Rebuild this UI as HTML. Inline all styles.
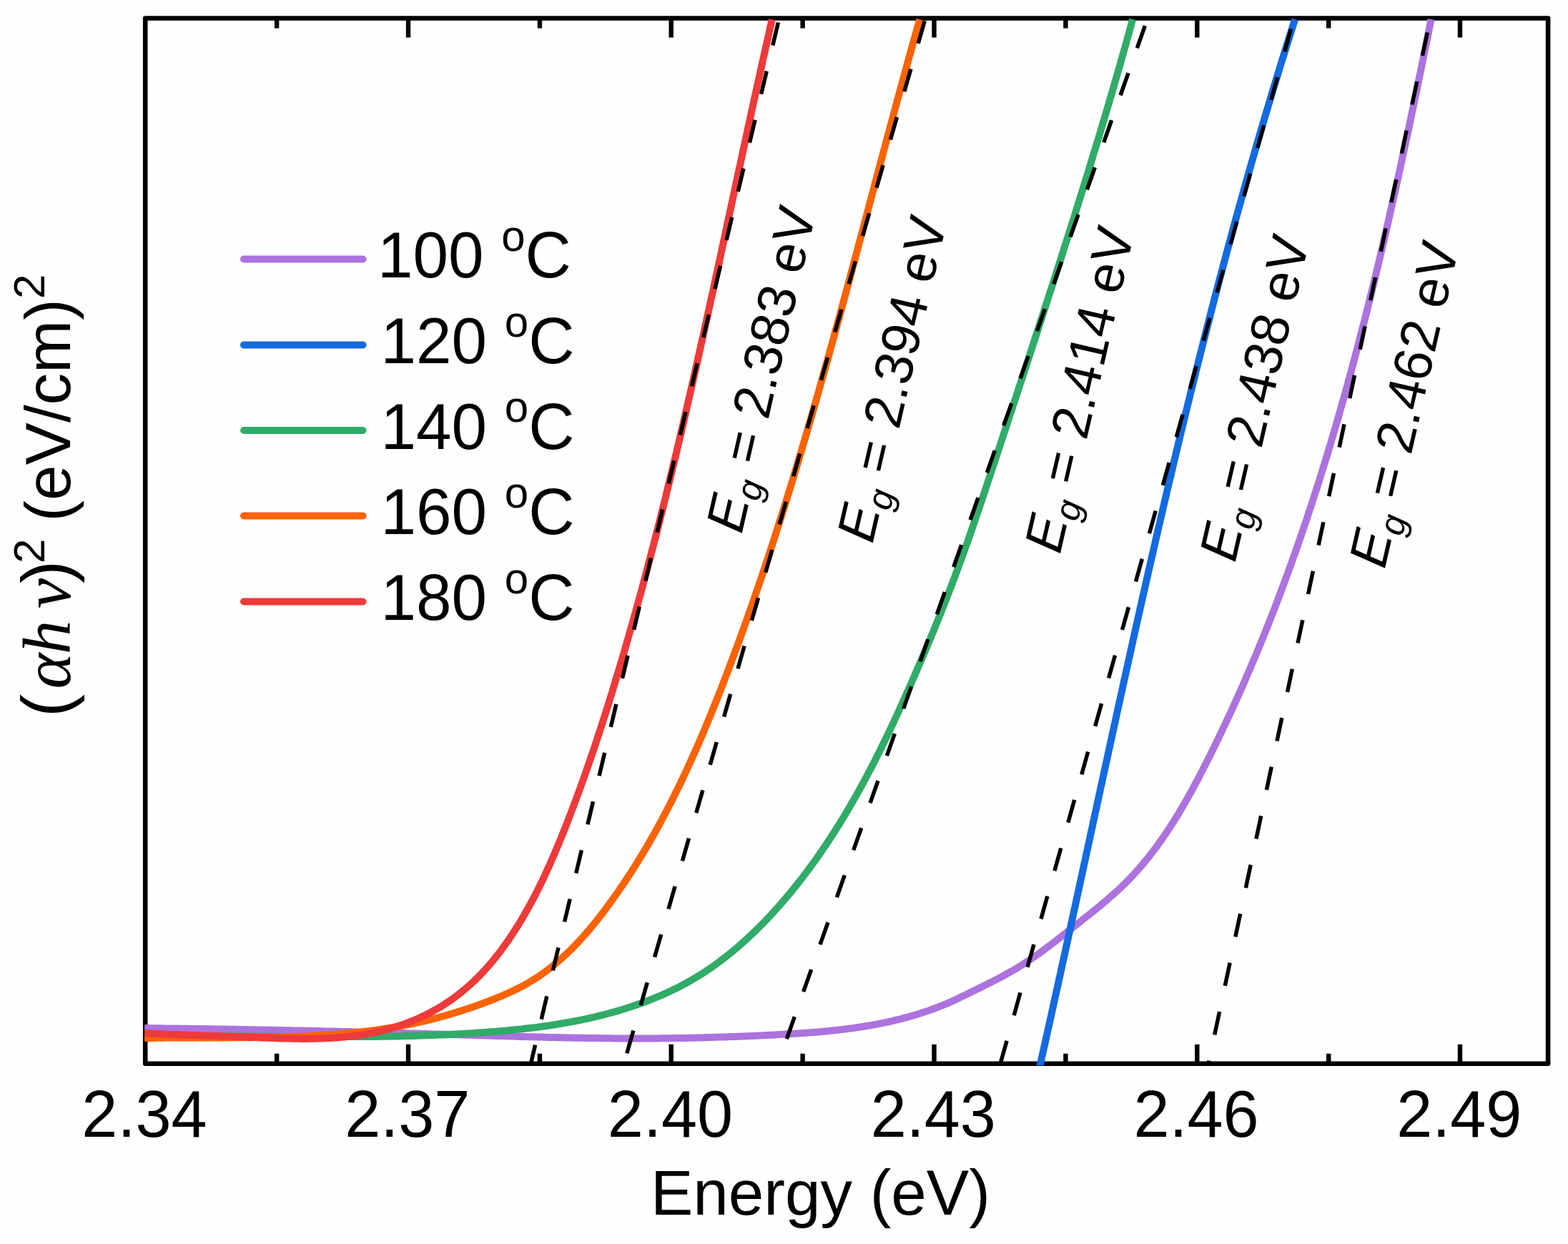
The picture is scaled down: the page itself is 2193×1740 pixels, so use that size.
<!DOCTYPE html>
<html><head><meta charset="utf-8"><title>Tauc plot</title>
<style>html,body{margin:0;padding:0;background:#fefefe;}svg{display:block;}</style>
</head><body>
<svg xmlns="http://www.w3.org/2000/svg" width="2193" height="1740" viewBox="0 0 2193 1740">
<rect x="0" y="0" width="2193" height="1740" fill="#fefefe"/>
<defs><clipPath id="pa"><rect x="203.2" y="25.5" width="1961.8999999999999" height="1462.3"/></clipPath><clipPath id="pc"><rect x="202.2" y="23.5" width="1963.8999999999999" height="1466.8"/></clipPath></defs>
<rect x="203.2" y="25.5" width="1961.8999999999999" height="1462.3" fill="none" stroke="#000" stroke-width="6.6" stroke-linejoin="round"/>
<path d="M387.1,1487.8V1473.8M387.1,25.5V39.5M571.0,1487.8V1460.8M571.0,25.5V52.5M754.9,1487.8V1473.8M754.9,25.5V39.5M938.7,1487.8V1460.8M938.7,25.5V52.5M1122.6,1487.8V1473.8M1122.6,25.5V39.5M1306.5,1487.8V1460.8M1306.5,25.5V52.5M1490.4,1487.8V1473.8M1490.4,25.5V39.5M1674.3,1487.8V1460.8M1674.3,25.5V52.5M1858.2,1487.8V1473.8M1858.2,25.5V39.5M2042.0,1487.8V1460.8M2042.0,25.5V52.5" stroke="#000" stroke-width="6.4" fill="none"/>
<g clip-path="url(#pc)" fill="none" stroke-linejoin="round" stroke-linecap="butt">
<path d="M2001.6,26.9 L2000.5,32.3 L1999.4,37.7 L1998.4,43.0 L1997.3,48.4 L1996.2,53.7 L1995.1,59.1 L1994.0,64.4 L1992.9,69.8 L1991.8,75.1 L1990.8,80.5 L1989.7,85.8 L1988.6,91.2 L1987.5,96.6 L1986.4,101.9 L1985.3,107.3 L1984.2,112.6 L1983.1,118.0 L1982.0,123.3 L1980.9,128.7 L1979.7,134.0 L1978.6,139.4 L1977.5,144.7 L1976.4,150.1 L1975.3,155.4 L1974.2,160.8 L1973.0,166.1 L1971.9,171.5 L1970.8,176.8 L1969.7,182.2 L1968.5,187.6 L1967.4,192.9 L1966.2,198.2 L1965.1,203.6 L1963.9,208.9 L1962.8,214.3 L1961.6,219.6 L1960.5,225.0 L1959.3,230.3 L1958.2,235.7 L1957.0,241.0 L1955.8,246.4 L1954.7,251.7 L1953.5,257.0 L1952.3,262.4 L1951.1,267.7 L1949.9,273.1 L1948.7,278.4 L1947.5,283.7 L1946.3,289.1 L1945.1,294.4 L1943.9,299.8 L1942.7,305.1 L1941.5,310.4 L1940.3,315.8 L1939.1,321.1 L1937.8,326.4 L1936.6,331.7 L1935.4,337.1 L1934.1,342.4 L1932.9,347.7 L1931.6,353.0 L1930.4,358.4 L1929.1,363.7 L1927.9,369.0 L1926.6,374.3 L1925.3,379.7 L1924.0,385.0 L1922.7,390.3 L1921.5,395.6 L1920.2,400.9 L1918.9,406.2 L1917.6,411.5 L1916.2,416.8 L1914.9,422.2 L1913.6,427.5 L1912.3,432.8 L1910.9,438.1 L1909.6,443.4 L1908.3,448.7 L1906.9,454.0 L1905.6,459.3 L1904.2,464.6 L1902.8,469.9 L1901.5,475.1 L1900.1,480.4 L1898.7,485.7 L1897.3,491.0 L1895.9,496.3 L1894.5,501.6 L1893.1,506.9 L1891.7,512.1 L1890.2,517.4 L1888.8,522.7 L1887.4,528.0 L1885.9,533.2 L1884.5,538.5 L1883.0,543.8 L1881.6,549.0 L1880.1,554.3 L1878.6,559.6 L1877.1,564.8 L1875.6,570.1 L1874.1,575.3 L1872.6,580.6 L1871.1,585.9 L1869.6,591.1 L1868.1,596.3 L1866.5,601.6 L1865.0,606.8 L1863.4,612.1 L1861.9,617.3 L1860.3,622.6 L1858.7,627.8 L1857.2,633.0 L1855.6,638.2 L1854.0,643.5 L1852.4,648.7 L1850.7,653.9 L1849.1,659.1 L1847.5,664.4 L1845.9,669.6 L1844.2,674.8 L1842.6,680.0 L1840.9,685.2 L1839.2,690.4 L1837.5,695.6 L1835.8,700.8 L1834.2,706.0 L1832.4,711.2 L1830.7,716.4 L1829.0,721.6 L1827.3,726.8 L1825.5,731.9 L1823.8,737.1 L1822.0,742.3 L1820.3,747.5 L1818.5,752.6 L1816.7,757.8 L1814.9,763.0 L1813.1,768.1 L1811.3,773.3 L1809.4,778.4 L1807.6,783.6 L1805.8,788.7 L1803.9,793.9 L1802.0,799.0 L1800.2,804.1 L1798.3,809.3 L1796.4,814.4 L1794.5,819.5 L1792.6,824.6 L1790.7,829.7 L1788.7,834.9 L1786.8,840.0 L1784.8,845.1 L1782.9,850.2 L1780.9,855.3 L1778.9,860.4 L1776.9,865.5 L1774.9,870.5 L1772.9,875.6 L1770.9,880.7 L1768.8,885.8 L1766.8,890.8 L1764.7,895.9 L1762.7,901.0 L1760.6,906.0 L1758.5,911.1 L1756.4,916.1 L1754.3,921.2 L1752.1,926.2 L1750.0,931.3 L1747.9,936.3 L1745.7,941.3 L1743.5,946.3 L1741.4,951.3 L1739.2,956.4 L1737.0,961.4 L1734.7,966.4 L1732.5,971.4 L1730.3,976.4 L1728.0,981.3 L1725.8,986.3 L1723.5,991.3 L1721.2,996.3 L1718.9,1001.3 L1716.6,1006.2 L1714.3,1011.2 L1711.9,1016.1 L1709.6,1021.1 L1707.2,1026.0 L1704.9,1031.0 L1702.5,1035.9 L1700.1,1040.8 L1697.7,1045.7 L1695.2,1050.7 L1692.8,1055.6 L1690.4,1060.5 L1687.9,1065.4 L1685.4,1070.3 L1682.9,1075.2 L1680.4,1080.0 L1677.9,1084.9 L1675.4,1089.8 L1672.8,1094.6 L1670.2,1099.4 L1667.6,1104.3 L1665.0,1109.1 L1662.3,1113.8 L1659.6,1118.6 L1656.9,1123.4 L1654.2,1128.1 L1651.4,1132.8 L1648.6,1137.5 L1645.8,1142.1 L1642.9,1146.8 L1640.0,1151.4 L1637.0,1156.0 L1634.1,1160.5 L1631.0,1165.1 L1628.0,1169.5 L1624.9,1174.0 L1621.7,1178.4 L1618.6,1182.9 L1615.3,1187.2 L1612.1,1191.5 L1608.7,1195.8 L1605.4,1200.1 L1601.9,1204.3 L1598.5,1208.5 L1594.9,1212.6 L1591.4,1216.7 L1587.7,1220.8 L1584.0,1224.8 L1580.3,1228.7 L1576.5,1232.7 L1572.6,1236.5 L1568.7,1240.3 L1564.7,1244.1 L1560.6,1247.8 L1556.5,1251.5 L1552.4,1255.1 L1548.2,1258.8 L1544.0,1262.3 L1539.7,1265.9 L1535.5,1269.4 L1531.2,1272.9 L1526.9,1276.3 L1522.5,1279.8 L1518.2,1283.2 L1513.9,1286.7 L1509.6,1290.1 L1505.3,1293.5 L1501.0,1296.9 L1496.7,1300.3 L1492.4,1303.7 L1488.1,1307.1 L1483.8,1310.5 L1479.5,1313.8 L1475.2,1317.1 L1470.9,1320.4 L1466.6,1323.7 L1462.2,1326.9 L1457.9,1330.2 L1453.5,1333.3 L1449.1,1336.5 L1444.6,1339.5 L1440.2,1342.6 L1435.7,1345.6 L1431.1,1348.5 L1426.6,1351.4 L1422.0,1354.3 L1417.3,1357.0 L1412.6,1359.7 L1407.8,1362.4 L1403.0,1365.0 L1398.2,1367.6 L1393.4,1370.1 L1388.5,1372.7 L1383.6,1375.1 L1378.7,1377.6 L1373.7,1380.0 L1368.8,1382.5 L1363.8,1384.9 L1358.9,1387.3 L1353.9,1389.8 L1349.0,1392.2 L1344.0,1394.6 L1339.0,1397.0 L1334.0,1399.4 L1329.0,1401.6 L1324.0,1403.8 L1318.9,1405.9 L1313.8,1407.9 L1308.7,1409.9 L1303.6,1411.8 L1298.5,1413.6 L1293.3,1415.4 L1288.1,1417.1 L1283.0,1418.7 L1277.7,1420.3 L1272.5,1421.8 L1267.3,1423.2 L1262.0,1424.6 L1256.8,1426.0 L1251.5,1427.2 L1246.2,1428.5 L1240.9,1429.6 L1235.6,1430.7 L1230.2,1431.8 L1224.9,1432.8 L1219.5,1433.8 L1214.2,1434.7 L1208.8,1435.6 L1203.4,1436.5 L1198.0,1437.3 L1192.6,1438.1 L1187.2,1438.8 L1181.8,1439.5 L1176.3,1440.1 L1170.9,1440.8 L1165.5,1441.3 L1160.0,1441.9 L1154.6,1442.4 L1149.1,1442.9 L1143.7,1443.4 L1138.2,1443.9 L1132.7,1444.3 L1127.2,1444.7 L1121.8,1445.1 L1116.3,1445.5 L1110.8,1445.8 L1105.3,1446.2 L1099.8,1446.5 L1094.4,1446.8 L1088.9,1447.1 L1083.4,1447.4 L1077.9,1447.7 L1072.4,1448.0 L1067.0,1448.2 L1061.5,1448.5 L1056.0,1448.7 L1050.6,1449.0 L1045.1,1449.2 L1039.6,1449.4 L1034.1,1449.7 L1028.7,1449.9 L1023.2,1450.1 L1017.8,1450.3 L1012.3,1450.5 L1006.8,1450.6 L1001.4,1450.8 L995.9,1451.0 L990.4,1451.1 L985.0,1451.3 L979.5,1451.4 L974.1,1451.5 L968.6,1451.7 L963.1,1451.8 L957.7,1451.9 L952.2,1452.0 L946.8,1452.1 L941.3,1452.1 L935.8,1452.2 L930.4,1452.3 L924.9,1452.3 L919.5,1452.4 L914.0,1452.4 L908.5,1452.4 L903.1,1452.5 L897.6,1452.5 L892.1,1452.5 L886.7,1452.5 L881.2,1452.5 L875.8,1452.5 L870.3,1452.4 L864.8,1452.4 L859.4,1452.4 L853.9,1452.3 L848.4,1452.3 L843.0,1452.2 L837.5,1452.1 L832.0,1452.1 L826.6,1452.0 L821.1,1451.9 L815.7,1451.8 L810.2,1451.8 L804.7,1451.7 L799.3,1451.6 L793.8,1451.4 L788.3,1451.3 L782.9,1451.2 L777.4,1451.1 L771.9,1451.0 L766.5,1450.9 L761.0,1450.7 L755.5,1450.6 L750.1,1450.5 L744.6,1450.3 L739.1,1450.2 L733.7,1450.0 L728.2,1449.9 L722.7,1449.7 L717.3,1449.6 L711.8,1449.4 L706.3,1449.3 L700.9,1449.1 L695.4,1449.0 L689.9,1448.8 L684.5,1448.6 L679.0,1448.5 L673.5,1448.3 L668.1,1448.2 L662.6,1448.0 L657.1,1447.8 L651.7,1447.7 L646.2,1447.5 L640.7,1447.3 L635.3,1447.2 L629.8,1447.0 L624.3,1446.8 L618.9,1446.7 L613.4,1446.5 L607.9,1446.4 L602.5,1446.2 L597.0,1446.0 L591.5,1445.9 L586.1,1445.7 L580.6,1445.6 L575.1,1445.4 L569.7,1445.3 L564.2,1445.1 L558.7,1445.0 L553.3,1444.8 L547.8,1444.7 L542.3,1444.5 L536.9,1444.4 L531.4,1444.2 L525.9,1444.1 L520.5,1444.0 L515.0,1443.8 L509.5,1443.7 L504.1,1443.5 L498.6,1443.4 L493.2,1443.3 L487.7,1443.1 L482.2,1443.0 L476.8,1442.9 L471.3,1442.7 L465.8,1442.6 L460.4,1442.5 L454.9,1442.4 L449.4,1442.2 L444.0,1442.1 L438.5,1442.0 L433.0,1441.9 L427.6,1441.8 L422.1,1441.6 L416.6,1441.5 L411.2,1441.4 L405.7,1441.3 L400.3,1441.2 L394.8,1441.1 L389.3,1441.0 L383.9,1440.8 L378.4,1440.7 L372.9,1440.6 L367.5,1440.5 L362.0,1440.4 L356.5,1440.3 L351.1,1440.2 L345.6,1440.1 L340.1,1440.0 L334.7,1439.9 L329.2,1439.8 L323.7,1439.7 L318.3,1439.6 L312.8,1439.6 L307.3,1439.5 L301.9,1439.4 L296.4,1439.3 L290.9,1439.2 L285.5,1439.1 L280.0,1439.0 L274.5,1439.0 L269.1,1438.9 L263.6,1438.8 L258.1,1438.7 L252.7,1438.7 L247.2,1438.6 L241.7,1438.5 L236.3,1438.4 L230.8,1438.4 L225.3,1438.3 L219.9,1438.2 L214.4,1438.2 L208.9,1438.1 L203.4,1438.1 L198.0,1438.0" stroke="#ac72de" stroke-width="10"/>
<path d="M1811.2,27.0 L1810.3,29.9 L1809.3,32.8 L1808.4,35.7 L1807.5,38.5 L1806.6,41.4 L1805.7,44.3 L1804.8,47.2 L1803.8,50.1 L1802.9,53.0 L1802.0,55.9 L1801.1,58.7 L1800.2,61.6 L1799.3,64.5 L1798.4,67.4 L1797.5,70.3 L1796.6,73.2 L1795.7,76.1 L1794.8,79.0 L1793.9,81.8 L1793.0,84.7 L1792.1,87.6 L1791.2,90.5 L1790.3,93.4 L1789.4,96.3 L1788.6,99.2 L1787.7,102.1 L1786.8,105.0 L1785.9,107.9 L1785.0,110.8 L1784.1,113.6 L1783.3,116.5 L1782.4,119.4 L1781.5,122.3 L1780.6,125.2 L1779.7,128.1 L1778.9,131.0 L1778.0,133.9 L1777.1,136.8 L1776.3,139.7 L1775.4,142.6 L1774.5,145.5 L1773.7,148.4 L1772.8,151.3 L1771.9,154.2 L1771.1,157.1 L1770.2,160.0 L1769.3,162.9 L1768.5,165.8 L1767.6,168.7 L1766.8,171.6 L1765.9,174.5 L1765.1,177.4 L1764.2,180.3 L1763.4,183.2 L1762.5,186.1 L1761.7,189.0 L1760.8,191.9 L1760.0,194.8 L1759.1,197.7 L1758.3,200.6 L1757.4,203.5 L1756.6,206.4 L1755.8,209.3 L1754.9,212.2 L1754.1,215.1 L1753.3,218.0 L1752.4,220.9 L1751.6,223.8 L1750.8,226.7 L1749.9,229.6 L1749.1,232.6 L1748.3,235.5 L1747.4,238.4 L1746.6,241.3 L1745.8,244.2 L1745.0,247.1 L1744.1,250.0 L1743.3,252.9 L1742.5,255.8 L1741.7,258.7 L1740.9,261.6 L1740.0,264.5 L1739.2,267.5 L1738.4,270.4 L1737.6,273.3 L1736.8,276.2 L1736.0,279.1 L1735.2,282.0 L1734.4,284.9 L1733.5,287.8 L1732.7,290.7 L1731.9,293.7 L1731.1,296.6 L1730.3,299.5 L1729.5,302.4 L1728.7,305.3 L1727.9,308.2 L1727.1,311.1 L1726.3,314.1 L1725.5,317.0 L1724.7,319.9 L1723.9,322.8 L1723.1,325.7 L1722.3,328.6 L1721.6,331.6 L1720.8,334.5 L1720.0,337.4 L1719.2,340.3 L1718.4,343.2 L1717.6,346.1 L1716.8,349.1 L1716.0,352.0 L1715.3,354.9 L1714.5,357.8 L1713.7,360.7 L1712.9,363.7 L1712.1,366.6 L1711.4,369.5 L1710.6,372.4 L1709.8,375.3 L1709.0,378.3 L1708.3,381.2 L1707.5,384.1 L1706.7,387.0 L1705.9,389.9 L1705.2,392.9 L1704.4,395.8 L1703.6,398.7 L1702.9,401.6 L1702.1,404.6 L1701.3,407.5 L1700.6,410.4 L1699.8,413.3 L1699.0,416.2 L1698.3,419.2 L1697.5,422.1 L1696.8,425.0 L1696.0,427.9 L1695.2,430.9 L1694.5,433.8 L1693.7,436.7 L1693.0,439.6 L1692.2,442.6 L1691.5,445.5 L1690.7,448.4 L1690.0,451.4 L1689.2,454.3 L1688.5,457.2 L1687.7,460.1 L1687.0,463.1 L1686.2,466.0 L1685.5,468.9 L1684.7,471.9 L1684.0,474.8 L1683.2,477.7 L1682.5,480.6 L1681.8,483.6 L1681.0,486.5 L1680.3,489.4 L1679.5,492.4 L1678.8,495.3 L1678.1,498.2 L1677.3,501.1 L1676.6,504.1 L1675.8,507.0 L1675.1,509.9 L1674.4,512.9 L1673.6,515.8 L1672.9,518.7 L1672.2,521.7 L1671.5,524.6 L1670.7,527.5 L1670.0,530.5 L1669.3,533.4 L1668.5,536.3 L1667.8,539.3 L1667.1,542.2 L1666.4,545.1 L1665.6,548.1 L1664.9,551.0 L1664.2,553.9 L1663.5,556.9 L1662.8,559.8 L1662.0,562.7 L1661.3,565.7 L1660.6,568.6 L1659.9,571.6 L1659.2,574.5 L1658.4,577.4 L1657.7,580.4 L1657.0,583.3 L1656.3,586.2 L1655.6,589.2 L1654.9,592.1 L1654.2,595.0 L1653.5,598.0 L1652.7,600.9 L1652.0,603.9 L1651.3,606.8 L1650.6,609.7 L1649.9,612.7 L1649.2,615.6 L1648.5,618.5 L1647.8,621.5 L1647.1,624.4 L1646.4,627.4 L1645.7,630.3 L1645.0,633.2 L1644.3,636.2 L1643.6,639.1 L1642.9,642.1 L1642.2,645.0 L1641.5,647.9 L1640.8,650.9 L1640.1,653.8 L1639.4,656.8 L1638.7,659.7 L1638.0,662.6 L1637.3,665.6 L1636.6,668.5 L1635.9,671.5 L1635.2,674.4 L1634.5,677.4 L1633.8,680.3 L1633.1,683.2 L1632.4,686.2 L1631.8,689.1 L1631.1,692.1 L1630.4,695.0 L1629.7,698.0 L1629.0,700.9 L1628.3,703.8 L1627.6,706.8 L1626.9,709.7 L1626.3,712.7 L1625.6,715.6 L1624.9,718.6 L1624.2,721.5 L1623.5,724.5 L1622.8,727.4 L1622.2,730.3 L1621.5,733.3 L1620.8,736.2 L1620.1,739.2 L1619.4,742.1 L1618.8,745.1 L1618.1,748.0 L1617.4,751.0 L1616.7,753.9 L1616.0,756.9 L1615.4,759.8 L1614.7,762.7 L1614.0,765.7 L1613.3,768.6 L1612.7,771.6 L1612.0,774.5 L1611.3,777.5 L1610.6,780.4 L1610.0,783.4 L1609.3,786.3 L1608.6,789.3 L1608.0,792.2 L1607.3,795.2 L1606.6,798.1 L1605.9,801.1 L1605.3,804.0 L1604.6,807.0 L1603.9,809.9 L1603.3,812.8 L1602.6,815.8 L1601.9,818.7 L1601.3,821.7 L1600.6,824.6 L1599.9,827.6 L1599.3,830.5 L1598.6,833.5 L1597.9,836.4 L1597.3,839.4 L1596.6,842.3 L1596.0,845.3 L1595.3,848.2 L1594.6,851.2 L1594.0,854.1 L1593.3,857.1 L1592.6,860.0 L1592.0,863.0 L1591.3,865.9 L1590.7,868.9 L1590.0,871.8 L1589.3,874.8 L1588.7,877.7 L1588.0,880.7 L1587.4,883.6 L1586.7,886.6 L1586.1,889.5 L1585.4,892.5 L1584.7,895.4 L1584.1,898.4 L1583.4,901.3 L1582.8,904.3 L1582.1,907.2 L1581.5,910.2 L1580.8,913.2 L1580.2,916.1 L1579.5,919.1 L1578.8,922.0 L1578.2,925.0 L1577.5,927.9 L1576.9,930.9 L1576.2,933.8 L1575.6,936.8 L1574.9,939.7 L1574.3,942.7 L1573.6,945.6 L1573.0,948.6 L1572.3,951.5 L1571.7,954.5 L1571.0,957.4 L1570.4,960.4 L1569.7,963.3 L1569.1,966.3 L1568.4,969.2 L1567.8,972.2 L1567.1,975.1 L1566.5,978.1 L1565.8,981.1 L1565.2,984.0 L1564.5,987.0 L1563.9,989.9 L1563.2,992.9 L1562.6,995.8 L1562.0,998.8 L1561.3,1001.7 L1560.7,1004.7 L1560.0,1007.6 L1559.4,1010.6 L1558.7,1013.5 L1558.1,1016.5 L1557.4,1019.5 L1556.8,1022.4 L1556.1,1025.4 L1555.5,1028.3 L1554.9,1031.3 L1554.2,1034.2 L1553.6,1037.2 L1552.9,1040.1 L1552.3,1043.1 L1551.6,1046.0 L1551.0,1049.0 L1550.3,1051.9 L1549.7,1054.9 L1549.1,1057.9 L1548.4,1060.8 L1547.8,1063.8 L1547.1,1066.7 L1546.5,1069.7 L1545.8,1072.6 L1545.2,1075.6 L1544.6,1078.5 L1543.9,1081.5 L1543.3,1084.4 L1542.6,1087.4 L1542.0,1090.4 L1541.4,1093.3 L1540.7,1096.3 L1540.1,1099.2 L1539.4,1102.2 L1538.8,1105.1 L1538.2,1108.1 L1537.5,1111.0 L1536.9,1114.0 L1536.2,1116.9 L1535.6,1119.9 L1534.9,1122.9 L1534.3,1125.8 L1533.7,1128.8 L1533.0,1131.7 L1532.4,1134.7 L1531.7,1137.6 L1531.1,1140.6 L1530.5,1143.5 L1529.8,1146.5 L1529.2,1149.4 L1528.5,1152.4 L1527.9,1155.4 L1527.3,1158.3 L1526.6,1161.3 L1526.0,1164.2 L1525.3,1167.2 L1524.7,1170.1 L1524.1,1173.1 L1523.4,1176.0 L1522.8,1179.0 L1522.1,1181.9 L1521.5,1184.9 L1520.9,1187.9 L1520.2,1190.8 L1519.6,1193.8 L1518.9,1196.7 L1518.3,1199.7 L1517.7,1202.6 L1517.0,1205.6 L1516.4,1208.5 L1515.7,1211.5 L1515.1,1214.4 L1514.5,1217.4 L1513.8,1220.4 L1513.2,1223.3 L1512.5,1226.3 L1511.9,1229.2 L1511.3,1232.2 L1510.6,1235.1 L1510.0,1238.1 L1509.3,1241.0 L1508.7,1244.0 L1508.1,1246.9 L1507.4,1249.9 L1506.8,1252.9 L1506.1,1255.8 L1505.5,1258.8 L1504.9,1261.7 L1504.2,1264.7 L1503.6,1267.6 L1502.9,1270.6 L1502.3,1273.5 L1501.6,1276.5 L1501.0,1279.4 L1500.4,1282.4 L1499.7,1285.3 L1499.1,1288.3 L1498.4,1291.2 L1497.8,1294.2 L1497.2,1297.2 L1496.5,1300.1 L1495.9,1303.1 L1495.2,1306.0 L1494.6,1309.0 L1493.9,1311.9 L1493.3,1314.9 L1492.6,1317.8 L1492.0,1320.8 L1491.4,1323.7 L1490.7,1326.7 L1490.1,1329.6 L1489.4,1332.6 L1488.8,1335.5 L1488.1,1338.5 L1487.5,1341.5 L1486.8,1344.4 L1486.2,1347.4 L1485.5,1350.3 L1484.9,1353.3 L1484.3,1356.2 L1483.6,1359.2 L1483.0,1362.1 L1482.3,1365.1 L1481.7,1368.0 L1481.0,1371.0 L1480.4,1373.9 L1479.7,1376.9 L1479.1,1379.8 L1478.4,1382.8 L1477.8,1385.7 L1477.1,1388.7 L1476.5,1391.6 L1475.8,1394.6 L1475.2,1397.5 L1474.5,1400.5 L1473.9,1403.4 L1473.2,1406.4 L1472.6,1409.3 L1471.9,1412.3 L1471.3,1415.2 L1470.6,1418.2 L1470.0,1421.1 L1469.3,1424.1 L1468.7,1427.0 L1468.0,1430.0 L1467.4,1432.9 L1466.7,1435.9 L1466.0,1438.8 L1465.4,1441.8 L1464.7,1444.7 L1464.1,1447.7 L1463.4,1450.6 L1462.8,1453.6 L1462.1,1456.5 L1461.5,1459.5 L1460.8,1462.4 L1460.1,1465.4 L1459.5,1468.3 L1458.8,1471.3 L1458.2,1474.2 L1457.5,1477.2 L1456.8,1480.1 L1456.2,1483.1 L1455.5,1486.0 L1454.9,1489.0 L1454.2,1491.9" stroke="#146ae0" stroke-width="10"/>
<path d="M1584.1,27.0 L1582.9,31.5 L1581.7,35.9 L1580.5,40.3 L1579.3,44.7 L1578.1,49.1 L1576.8,53.5 L1575.6,58.0 L1574.4,62.4 L1573.2,66.8 L1571.9,71.2 L1570.7,75.6 L1569.4,80.0 L1568.2,84.4 L1566.9,88.8 L1565.7,93.2 L1564.4,97.6 L1563.1,102.0 L1561.9,106.4 L1560.6,110.8 L1559.3,115.2 L1558.1,119.6 L1556.8,124.0 L1555.5,128.4 L1554.2,132.8 L1552.9,137.2 L1551.6,141.6 L1550.4,146.0 L1549.1,150.4 L1547.8,154.8 L1546.5,159.2 L1545.2,163.6 L1543.8,168.0 L1542.5,172.3 L1541.2,176.7 L1539.9,181.1 L1538.6,185.5 L1537.3,189.9 L1536.0,194.3 L1534.6,198.7 L1533.3,203.0 L1532.0,207.4 L1530.6,211.8 L1529.3,216.2 L1528.0,220.6 L1526.6,224.9 L1525.3,229.3 L1523.9,233.7 L1522.6,238.1 L1521.3,242.5 L1519.9,246.8 L1518.6,251.2 L1517.2,255.6 L1515.8,260.0 L1514.5,264.3 L1513.1,268.7 L1511.8,273.1 L1510.4,277.4 L1509.0,281.8 L1507.7,286.2 L1506.3,290.6 L1504.9,294.9 L1503.6,299.3 L1502.2,303.7 L1500.8,308.0 L1499.4,312.4 L1498.0,316.8 L1496.7,321.1 L1495.3,325.5 L1493.9,329.9 L1492.5,334.2 L1491.1,338.6 L1489.7,343.0 L1488.3,347.3 L1487.0,351.7 L1485.6,356.0 L1484.2,360.4 L1482.8,364.8 L1481.4,369.1 L1480.0,373.5 L1478.6,377.8 L1477.2,382.2 L1475.8,386.6 L1474.4,390.9 L1473.0,395.3 L1471.6,399.7 L1470.2,404.0 L1468.7,408.4 L1467.3,412.7 L1465.9,417.1 L1464.5,421.4 L1463.1,425.8 L1461.7,430.2 L1460.3,434.5 L1458.9,438.9 L1457.5,443.2 L1456.0,447.6 L1454.6,451.9 L1453.2,456.3 L1451.8,460.7 L1450.4,465.0 L1449.0,469.4 L1447.5,473.7 L1446.1,478.1 L1444.7,482.4 L1443.3,486.8 L1441.9,491.2 L1440.4,495.5 L1439.0,499.9 L1437.6,504.2 L1436.2,508.6 L1434.8,512.9 L1433.3,517.3 L1431.9,521.6 L1430.5,526.0 L1429.1,530.4 L1427.6,534.7 L1426.2,539.1 L1424.8,543.4 L1423.3,547.8 L1421.9,552.1 L1420.5,556.5 L1419.1,560.8 L1417.6,565.2 L1416.2,569.5 L1414.8,573.9 L1413.3,578.2 L1411.9,582.6 L1410.5,587.0 L1409.0,591.3 L1407.6,595.7 L1406.2,600.0 L1404.7,604.4 L1403.3,608.7 L1401.9,613.1 L1400.4,617.4 L1399.0,621.8 L1397.6,626.1 L1396.1,630.5 L1394.7,634.8 L1393.2,639.2 L1391.8,643.5 L1390.4,647.9 L1388.9,652.2 L1387.5,656.6 L1386.0,660.9 L1384.6,665.3 L1383.1,669.6 L1381.7,674.0 L1380.3,678.3 L1378.8,682.6 L1377.4,687.0 L1375.9,691.3 L1374.5,695.7 L1373.0,700.0 L1371.5,704.4 L1370.1,708.7 L1368.6,713.0 L1367.1,717.4 L1365.7,721.7 L1364.2,726.0 L1362.7,730.4 L1361.2,734.7 L1359.7,739.0 L1358.2,743.4 L1356.7,747.7 L1355.2,752.0 L1353.7,756.3 L1352.2,760.6 L1350.6,764.9 L1349.1,769.2 L1347.6,773.5 L1346.0,777.9 L1344.4,782.1 L1342.9,786.4 L1341.3,790.7 L1339.7,795.0 L1338.1,799.3 L1336.5,803.6 L1334.9,807.9 L1333.3,812.1 L1331.7,816.4 L1330.1,820.7 L1328.4,825.0 L1326.8,829.2 L1325.1,833.5 L1323.5,837.7 L1321.8,842.0 L1320.1,846.3 L1318.4,850.5 L1316.8,854.8 L1315.1,859.0 L1313.4,863.2 L1311.7,867.5 L1309.9,871.7 L1308.2,876.0 L1306.5,880.2 L1304.8,884.4 L1303.0,888.6 L1301.3,892.9 L1299.5,897.1 L1297.8,901.3 L1296.0,905.5 L1294.2,909.8 L1292.4,914.0 L1290.6,918.2 L1288.9,922.4 L1287.1,926.6 L1285.2,930.8 L1283.4,935.0 L1281.6,939.2 L1279.8,943.4 L1278.0,947.6 L1276.1,951.8 L1274.3,956.0 L1272.4,960.2 L1270.6,964.4 L1268.7,968.6 L1266.9,972.8 L1265.0,977.0 L1263.1,981.1 L1261.2,985.3 L1259.3,989.5 L1257.4,993.7 L1255.5,997.8 L1253.6,1002.0 L1251.6,1006.2 L1249.7,1010.3 L1247.8,1014.5 L1245.8,1018.6 L1243.8,1022.8 L1241.9,1026.9 L1239.9,1031.0 L1237.9,1035.2 L1235.9,1039.3 L1233.8,1043.4 L1231.8,1047.5 L1229.8,1051.6 L1227.7,1055.7 L1225.6,1059.8 L1223.6,1063.9 L1221.5,1068.0 L1219.4,1072.1 L1217.3,1076.1 L1215.1,1080.2 L1213.0,1084.2 L1210.8,1088.3 L1208.7,1092.3 L1206.5,1096.3 L1204.3,1100.4 L1202.1,1104.4 L1199.9,1108.4 L1197.6,1112.4 L1195.4,1116.3 L1193.1,1120.3 L1190.8,1124.3 L1188.5,1128.2 L1186.2,1132.2 L1183.9,1136.1 L1181.5,1140.1 L1179.2,1144.0 L1176.8,1147.9 L1174.4,1151.8 L1172.0,1155.7 L1169.5,1159.5 L1167.1,1163.4 L1164.6,1167.3 L1162.1,1171.1 L1159.6,1174.9 L1157.1,1178.7 L1154.6,1182.5 L1152.0,1186.3 L1149.4,1190.1 L1146.8,1193.9 L1144.2,1197.6 L1141.6,1201.4 L1138.9,1205.1 L1136.2,1208.8 L1133.5,1212.5 L1130.8,1216.2 L1128.1,1219.9 L1125.3,1223.6 L1122.5,1227.2 L1119.7,1230.8 L1116.9,1234.4 L1114.0,1238.0 L1111.1,1241.6 L1108.2,1245.2 L1105.3,1248.8 L1102.4,1252.3 L1099.4,1255.8 L1096.4,1259.3 L1093.4,1262.8 L1090.4,1266.3 L1087.3,1269.8 L1084.2,1273.2 L1081.1,1276.6 L1078.0,1280.0 L1074.8,1283.4 L1071.6,1286.7 L1068.4,1290.1 L1065.2,1293.4 L1061.9,1296.6 L1058.7,1299.9 L1055.4,1303.1 L1052.0,1306.3 L1048.7,1309.4 L1045.3,1312.6 L1041.9,1315.7 L1038.5,1318.8 L1035.0,1321.8 L1031.6,1324.8 L1028.1,1327.8 L1024.6,1330.7 L1021.0,1333.6 L1017.5,1336.4 L1013.9,1339.3 L1010.2,1342.0 L1006.6,1344.8 L1002.9,1347.5 L999.3,1350.2 L995.5,1352.8 L991.8,1355.3 L988.0,1357.9 L984.3,1360.4 L980.4,1362.8 L976.6,1365.2 L972.7,1367.5 L968.9,1369.8 L965.0,1372.1 L961.0,1374.3 L957.1,1376.4 L953.1,1378.6 L949.1,1380.6 L945.1,1382.7 L941.0,1384.6 L937.0,1386.6 L932.9,1388.5 L928.8,1390.4 L924.7,1392.2 L920.5,1393.9 L916.4,1395.7 L912.2,1397.4 L908.0,1399.0 L903.8,1400.7 L899.5,1402.3 L895.3,1403.8 L891.0,1405.3 L886.7,1406.8 L882.4,1408.2 L878.1,1409.6 L873.8,1411.0 L869.5,1412.3 L865.1,1413.6 L860.7,1414.9 L856.3,1416.1 L851.9,1417.3 L847.5,1418.5 L843.1,1419.6 L838.7,1420.7 L834.2,1421.8 L829.8,1422.9 L825.3,1423.9 L820.8,1424.9 L816.3,1425.8 L811.8,1426.8 L807.3,1427.7 L802.8,1428.5 L798.2,1429.4 L793.7,1430.2 L789.2,1431.0 L784.6,1431.8 L780.0,1432.5 L775.5,1433.3 L770.9,1434.0 L766.3,1434.7 L761.7,1435.3 L757.1,1436.0 L752.5,1436.6 L747.9,1437.2 L743.3,1437.7 L738.7,1438.3 L734.1,1438.8 L729.5,1439.4 L724.9,1439.8 L720.3,1440.3 L715.6,1440.8 L711.0,1441.2 L706.4,1441.7 L701.8,1442.1 L697.1,1442.5 L692.5,1442.9 L687.9,1443.2 L683.2,1443.6 L678.6,1443.9 L674.0,1444.3 L669.4,1444.6 L664.8,1444.9 L660.1,1445.2 L655.5,1445.5 L650.9,1445.8 L646.3,1446.0 L641.7,1446.3 L637.1,1446.5 L632.5,1446.8 L627.9,1447.0 L623.3,1447.2 L618.7,1447.4 L614.1,1447.6 L609.5,1447.8 L605.0,1448.0 L600.4,1448.1 L595.8,1448.3 L591.2,1448.5 L586.7,1448.6 L582.1,1448.7 L577.5,1448.9 L572.9,1449.0 L568.4,1449.1 L563.8,1449.2 L559.2,1449.3 L554.7,1449.4 L550.1,1449.5 L545.6,1449.6 L541.0,1449.7 L536.4,1449.7 L531.9,1449.8 L527.3,1449.9 L522.8,1449.9 L518.2,1450.0 L513.7,1450.0 L509.1,1450.0 L504.6,1450.1 L500.0,1450.1 L495.5,1450.1 L490.9,1450.1 L486.4,1450.1 L481.8,1450.2 L477.3,1450.2 L472.7,1450.2 L468.2,1450.2 L463.7,1450.2 L459.1,1450.2 L454.6,1450.1 L450.0,1450.1 L445.5,1450.1 L440.9,1450.1 L436.4,1450.1 L431.8,1450.1 L427.3,1450.0 L422.7,1450.0 L418.2,1450.0 L413.6,1449.9 L409.1,1449.9 L404.5,1449.9 L400.0,1449.9 L395.4,1449.8 L390.9,1449.8 L386.3,1449.7 L381.8,1449.7 L377.2,1449.7 L372.7,1449.6 L368.1,1449.6 L363.5,1449.6 L359.0,1449.5 L354.4,1449.5 L349.9,1449.5 L345.3,1449.5 L340.7,1449.4 L336.2,1449.4 L331.6,1449.4 L327.0,1449.3 L322.4,1449.3 L317.9,1449.3 L313.3,1449.3 L308.7,1449.3 L304.1,1449.3 L299.5,1449.3 L294.9,1449.2 L290.3,1449.2 L285.7,1449.2 L281.1,1449.3 L276.5,1449.3 L271.9,1449.3 L267.3,1449.3 L262.7,1449.3 L258.1,1449.3 L253.5,1449.4 L248.9,1449.4 L244.3,1449.4 L239.6,1449.5 L235.0,1449.5 L230.4,1449.6 L225.7,1449.7 L221.1,1449.7 L216.5,1449.8 L211.8,1449.9 L207.2,1450.0 L202.5,1450.1 L197.8,1450.2" stroke="#31ab68" stroke-width="10"/>
<path d="M1286.3,27.1 L1285.2,31.1 L1284.1,35.0 L1283.0,38.9 L1281.9,42.8 L1280.8,46.7 L1279.7,50.6 L1278.6,54.5 L1277.5,58.4 L1276.4,62.3 L1275.3,66.3 L1274.3,70.2 L1273.2,74.1 L1272.1,78.0 L1271.0,81.9 L1269.9,85.8 L1268.9,89.7 L1267.8,93.7 L1266.7,97.6 L1265.6,101.5 L1264.6,105.4 L1263.5,109.3 L1262.4,113.3 L1261.3,117.2 L1260.3,121.1 L1259.2,125.0 L1258.1,128.9 L1257.1,132.9 L1256.0,136.8 L1254.9,140.7 L1253.9,144.6 L1252.8,148.6 L1251.8,152.5 L1250.7,156.4 L1249.6,160.3 L1248.6,164.3 L1247.5,168.2 L1246.5,172.1 L1245.4,176.0 L1244.4,180.0 L1243.3,183.9 L1242.2,187.8 L1241.2,191.7 L1240.1,195.7 L1239.1,199.6 L1238.0,203.5 L1237.0,207.5 L1235.9,211.4 L1234.9,215.3 L1233.8,219.2 L1232.8,223.2 L1231.7,227.1 L1230.7,231.0 L1229.6,235.0 L1228.6,238.9 L1227.6,242.8 L1226.5,246.8 L1225.5,250.7 L1224.4,254.6 L1223.4,258.6 L1222.3,262.5 L1221.3,266.4 L1220.2,270.3 L1219.2,274.3 L1218.1,278.2 L1217.1,282.1 L1216.0,286.1 L1215.0,290.0 L1214.0,293.9 L1212.9,297.9 L1211.9,301.8 L1210.8,305.7 L1209.8,309.7 L1208.7,313.6 L1207.7,317.5 L1206.6,321.5 L1205.6,325.4 L1204.5,329.3 L1203.5,333.3 L1202.4,337.2 L1201.4,341.1 L1200.3,345.1 L1199.3,349.0 L1198.2,352.9 L1197.2,356.8 L1196.1,360.8 L1195.1,364.7 L1194.0,368.6 L1193.0,372.6 L1191.9,376.5 L1190.9,380.4 L1189.8,384.4 L1188.8,388.3 L1187.7,392.2 L1186.6,396.1 L1185.6,400.1 L1184.5,404.0 L1183.5,407.9 L1182.4,411.9 L1181.3,415.8 L1180.3,419.7 L1179.2,423.6 L1178.2,427.6 L1177.1,431.5 L1176.0,435.4 L1175.0,439.4 L1173.9,443.3 L1172.8,447.2 L1171.7,451.1 L1170.7,455.1 L1169.6,459.0 L1168.5,462.9 L1167.4,466.8 L1166.4,470.8 L1165.3,474.7 L1164.2,478.6 L1163.1,482.5 L1162.0,486.4 L1160.9,490.4 L1159.9,494.3 L1158.8,498.2 L1157.7,502.1 L1156.6,506.0 L1155.5,510.0 L1154.4,513.9 L1153.3,517.8 L1152.2,521.7 L1151.1,525.6 L1150.0,529.6 L1148.9,533.5 L1147.8,537.4 L1146.7,541.3 L1145.6,545.2 L1144.5,549.1 L1143.4,553.0 L1142.2,557.0 L1141.1,560.9 L1140.0,564.8 L1138.9,568.7 L1137.8,572.6 L1136.6,576.5 L1135.5,580.4 L1134.4,584.3 L1133.3,588.2 L1132.1,592.1 L1131.0,596.0 L1129.8,599.9 L1128.7,603.8 L1127.6,607.8 L1126.4,611.7 L1125.3,615.6 L1124.1,619.5 L1123.0,623.4 L1121.8,627.3 L1120.7,631.2 L1119.5,635.1 L1118.3,638.9 L1117.2,642.8 L1116.0,646.7 L1114.8,650.6 L1113.7,654.5 L1112.5,658.4 L1111.3,662.3 L1110.1,666.2 L1108.9,670.1 L1107.8,674.0 L1106.6,677.9 L1105.4,681.8 L1104.2,685.6 L1103.0,689.5 L1101.8,693.4 L1100.6,697.3 L1099.4,701.2 L1098.2,705.1 L1097.0,708.9 L1095.7,712.8 L1094.5,716.7 L1093.3,720.6 L1092.1,724.5 L1090.8,728.3 L1089.6,732.2 L1088.4,736.1 L1087.1,740.0 L1085.9,743.8 L1084.7,747.7 L1083.4,751.6 L1082.2,755.4 L1080.9,759.3 L1079.7,763.2 L1078.4,767.0 L1077.1,770.9 L1075.9,774.8 L1074.6,778.6 L1073.3,782.5 L1072.0,786.3 L1070.7,790.2 L1069.5,794.1 L1068.2,797.9 L1066.9,801.8 L1065.6,805.6 L1064.3,809.5 L1063.0,813.3 L1061.7,817.2 L1060.4,821.0 L1059.0,824.9 L1057.7,828.7 L1056.4,832.6 L1055.1,836.4 L1053.7,840.2 L1052.4,844.1 L1051.1,847.9 L1049.7,851.8 L1048.4,855.6 L1047.0,859.4 L1045.7,863.3 L1044.3,867.1 L1042.9,870.9 L1041.6,874.7 L1040.2,878.6 L1038.8,882.4 L1037.4,886.2 L1036.0,890.0 L1034.7,893.9 L1033.3,897.7 L1031.9,901.5 L1030.5,905.3 L1029.0,909.1 L1027.6,913.0 L1026.2,916.8 L1024.8,920.6 L1023.4,924.4 L1021.9,928.2 L1020.5,932.0 L1019.1,935.8 L1017.6,939.6 L1016.2,943.4 L1014.7,947.2 L1013.2,951.0 L1011.8,954.8 L1010.3,958.6 L1008.8,962.4 L1007.4,966.2 L1005.9,970.0 L1004.4,973.8 L1002.9,977.5 L1001.4,981.3 L999.9,985.1 L998.3,988.9 L996.8,992.7 L995.3,996.4 L993.7,1000.2 L992.2,1004.0 L990.7,1007.7 L989.1,1011.5 L987.5,1015.2 L986.0,1019.0 L984.4,1022.7 L982.8,1026.5 L981.2,1030.2 L979.6,1034.0 L978.0,1037.7 L976.4,1041.4 L974.7,1045.2 L973.1,1048.9 L971.4,1052.6 L969.8,1056.3 L968.1,1060.0 L966.5,1063.7 L964.8,1067.4 L963.1,1071.1 L961.4,1074.8 L959.7,1078.5 L958.0,1082.2 L956.2,1085.9 L954.5,1089.5 L952.7,1093.2 L951.0,1096.9 L949.2,1100.5 L947.4,1104.2 L945.6,1107.8 L943.8,1111.4 L942.0,1115.1 L940.2,1118.7 L938.4,1122.3 L936.5,1125.9 L934.7,1129.6 L932.8,1133.2 L930.9,1136.8 L929.0,1140.4 L927.1,1143.9 L925.2,1147.5 L923.3,1151.1 L921.3,1154.7 L919.4,1158.2 L917.4,1161.8 L915.4,1165.3 L913.5,1168.9 L911.4,1172.4 L909.4,1175.9 L907.4,1179.4 L905.4,1183.0 L903.3,1186.5 L901.2,1190.0 L899.1,1193.4 L897.0,1196.9 L894.9,1200.4 L892.8,1203.9 L890.7,1207.3 L888.5,1210.8 L886.3,1214.2 L884.2,1217.6 L882.0,1221.1 L879.7,1224.5 L877.5,1227.9 L875.3,1231.3 L873.0,1234.7 L870.7,1238.1 L868.4,1241.4 L866.1,1244.8 L863.8,1248.2 L861.5,1251.5 L859.1,1254.8 L856.7,1258.2 L854.3,1261.5 L851.9,1264.8 L849.5,1268.1 L847.1,1271.4 L844.6,1274.7 L842.1,1277.9 L839.6,1281.2 L837.1,1284.4 L834.6,1287.6 L832.0,1290.8 L829.4,1294.0 L826.8,1297.1 L824.2,1300.2 L821.6,1303.3 L818.9,1306.4 L816.2,1309.5 L813.5,1312.5 L810.8,1315.5 L808.0,1318.5 L805.2,1321.4 L802.4,1324.3 L799.5,1327.2 L796.6,1330.0 L793.7,1332.8 L790.8,1335.6 L787.8,1338.4 L784.9,1341.1 L781.8,1343.7 L778.8,1346.3 L775.7,1348.9 L772.6,1351.5 L769.4,1354.0 L766.3,1356.4 L763.1,1358.8 L759.8,1361.2 L756.5,1363.5 L753.2,1365.8 L749.9,1368.0 L746.5,1370.1 L743.1,1372.2 L739.6,1374.3 L736.1,1376.3 L732.6,1378.3 L729.0,1380.2 L725.4,1382.0 L721.8,1383.8 L718.2,1385.6 L714.5,1387.3 L710.8,1389.0 L707.1,1390.7 L703.3,1392.3 L699.6,1393.9 L695.8,1395.4 L692.0,1397.0 L688.2,1398.5 L684.4,1400.0 L680.6,1401.4 L676.8,1402.9 L672.9,1404.3 L669.1,1405.7 L665.2,1407.1 L661.4,1408.4 L657.5,1409.7 L653.6,1411.0 L649.7,1412.3 L645.9,1413.6 L642.0,1414.8 L638.1,1416.1 L634.1,1417.3 L630.2,1418.4 L626.3,1419.6 L622.4,1420.7 L618.4,1421.8 L614.5,1422.9 L610.6,1423.9 L606.6,1425.0 L602.7,1426.0 L598.7,1426.9 L594.7,1427.9 L590.8,1428.8 L586.8,1429.7 L582.8,1430.6 L578.9,1431.5 L574.9,1432.3 L570.9,1433.1 L566.9,1433.9 L562.9,1434.7 L558.9,1435.4 L555.0,1436.1 L551.0,1436.8 L547.0,1437.5 L543.0,1438.1 L538.9,1438.8 L534.9,1439.4 L530.9,1440.0 L526.9,1440.6 L522.9,1441.1 L518.9,1441.6 L514.9,1442.2 L510.8,1442.6 L506.8,1443.1 L502.8,1443.6 L498.8,1444.0 L494.7,1444.5 L490.7,1444.9 L486.6,1445.3 L482.6,1445.6 L478.6,1446.0 L474.5,1446.3 L470.5,1446.7 L466.4,1447.0 L462.4,1447.3 L458.3,1447.6 L454.3,1447.8 L450.2,1448.1 L446.2,1448.3 L442.1,1448.6 L438.1,1448.8 L434.0,1449.0 L429.9,1449.2 L425.9,1449.4 L421.8,1449.6 L417.8,1449.7 L413.7,1449.9 L409.6,1450.0 L405.6,1450.2 L401.5,1450.3 L397.4,1450.4 L393.4,1450.5 L389.3,1450.6 L385.2,1450.7 L381.1,1450.8 L377.1,1450.9 L373.0,1450.9 L368.9,1451.0 L364.8,1451.0 L360.8,1451.1 L356.7,1451.1 L352.6,1451.2 L348.5,1451.2 L344.5,1451.2 L340.4,1451.3 L336.3,1451.3 L332.2,1451.3 L328.2,1451.3 L324.1,1451.3 L320.0,1451.4 L315.9,1451.4 L311.9,1451.4 L307.8,1451.4 L303.7,1451.4 L299.6,1451.4 L295.6,1451.4 L291.5,1451.4 L287.4,1451.4 L283.3,1451.4 L279.3,1451.4 L275.2,1451.4 L271.1,1451.4 L267.0,1451.4 L263.0,1451.4 L258.9,1451.4 L254.8,1451.5 L250.8,1451.5 L246.7,1451.5 L242.6,1451.5 L238.6,1451.6 L234.5,1451.6 L230.5,1451.6 L226.4,1451.7 L222.3,1451.7 L218.3,1451.8 L214.2,1451.9 L210.2,1451.9 L206.1,1452.0 L202.1,1452.1 L198.0,1452.2" stroke="#fa6303" stroke-width="10"/>
<path d="M1079.8,27.2 L1079.0,30.9 L1078.1,34.6 L1077.3,38.3 L1076.4,42.0 L1075.6,45.7 L1074.8,49.5 L1073.9,53.2 L1073.1,56.9 L1072.3,60.6 L1071.4,64.3 L1070.6,68.0 L1069.8,71.8 L1068.9,75.5 L1068.1,79.2 L1067.3,82.9 L1066.4,86.6 L1065.6,90.4 L1064.8,94.1 L1064.0,97.8 L1063.1,101.5 L1062.3,105.2 L1061.5,109.0 L1060.7,112.7 L1059.9,116.4 L1059.0,120.1 L1058.2,123.9 L1057.4,127.6 L1056.6,131.3 L1055.8,135.0 L1055.0,138.8 L1054.1,142.5 L1053.3,146.2 L1052.5,149.9 L1051.7,153.7 L1050.9,157.4 L1050.1,161.1 L1049.3,164.8 L1048.5,168.6 L1047.6,172.3 L1046.8,176.0 L1046.0,179.7 L1045.2,183.5 L1044.4,187.2 L1043.6,190.9 L1042.8,194.7 L1042.0,198.4 L1041.2,202.1 L1040.4,205.9 L1039.6,209.6 L1038.8,213.3 L1038.0,217.0 L1037.2,220.8 L1036.4,224.5 L1035.6,228.2 L1034.8,232.0 L1034.0,235.7 L1033.1,239.4 L1032.3,243.2 L1031.5,246.9 L1030.7,250.6 L1029.9,254.4 L1029.1,258.1 L1028.3,261.8 L1027.5,265.6 L1026.7,269.3 L1025.9,273.0 L1025.1,276.8 L1024.3,280.5 L1023.5,284.2 L1022.7,288.0 L1021.9,291.7 L1021.1,295.4 L1020.3,299.2 L1019.5,302.9 L1018.7,306.6 L1017.9,310.4 L1017.1,314.1 L1016.3,317.8 L1015.5,321.6 L1014.7,325.3 L1013.9,329.0 L1013.1,332.8 L1012.3,336.5 L1011.5,340.2 L1010.7,344.0 L1009.9,347.7 L1009.1,351.4 L1008.3,355.2 L1007.5,358.9 L1006.7,362.7 L1005.9,366.4 L1005.1,370.1 L1004.2,373.9 L1003.4,377.6 L1002.6,381.3 L1001.8,385.1 L1001.0,388.8 L1000.2,392.5 L999.4,396.3 L998.6,400.0 L997.8,403.7 L997.0,407.5 L996.2,411.2 L995.3,414.9 L994.5,418.7 L993.7,422.4 L992.9,426.1 L992.1,429.9 L991.3,433.6 L990.4,437.3 L989.6,441.1 L988.8,444.8 L988.0,448.5 L987.2,452.3 L986.3,456.0 L985.5,459.7 L984.7,463.4 L983.9,467.2 L983.1,470.9 L982.2,474.6 L981.4,478.4 L980.6,482.1 L979.7,485.8 L978.9,489.6 L978.1,493.3 L977.3,497.0 L976.4,500.7 L975.6,504.5 L974.8,508.2 L973.9,511.9 L973.1,515.7 L972.2,519.4 L971.4,523.1 L970.6,526.8 L969.7,530.6 L968.9,534.3 L968.0,538.0 L967.2,541.7 L966.3,545.5 L965.5,549.2 L964.6,552.9 L963.8,556.6 L962.9,560.4 L962.1,564.1 L961.2,567.8 L960.4,571.5 L959.5,575.3 L958.7,579.0 L957.8,582.7 L956.9,586.4 L956.1,590.2 L955.2,593.9 L954.3,597.6 L953.5,601.3 L952.6,605.0 L951.7,608.8 L950.8,612.5 L950.0,616.2 L949.1,619.9 L948.2,623.6 L947.3,627.3 L946.5,631.1 L945.6,634.8 L944.7,638.5 L943.8,642.2 L942.9,645.9 L942.0,649.6 L941.1,653.3 L940.2,657.1 L939.3,660.8 L938.4,664.5 L937.5,668.2 L936.6,671.9 L935.7,675.6 L934.8,679.3 L933.9,683.0 L933.0,686.7 L932.1,690.4 L931.2,694.1 L930.3,697.9 L929.3,701.6 L928.4,705.3 L927.5,709.0 L926.6,712.7 L925.7,716.4 L924.7,720.1 L923.8,723.8 L922.9,727.5 L921.9,731.2 L921.0,734.9 L920.0,738.6 L919.1,742.3 L918.2,746.0 L917.2,749.7 L916.3,753.4 L915.3,757.1 L914.4,760.8 L913.4,764.5 L912.4,768.2 L911.5,771.9 L910.5,775.5 L909.6,779.2 L908.6,782.9 L907.6,786.6 L906.6,790.3 L905.7,794.0 L904.7,797.7 L903.7,801.4 L902.7,805.1 L901.7,808.8 L900.7,812.4 L899.8,816.1 L898.8,819.8 L897.8,823.5 L896.8,827.2 L895.8,830.9 L894.8,834.5 L893.7,838.2 L892.7,841.9 L891.7,845.6 L890.7,849.2 L889.7,852.9 L888.7,856.6 L887.6,860.3 L886.6,863.9 L885.6,867.6 L884.6,871.3 L883.5,875.0 L882.5,878.6 L881.4,882.3 L880.4,886.0 L879.3,889.6 L878.3,893.3 L877.2,897.0 L876.2,900.6 L875.1,904.3 L874.1,908.0 L873.0,911.6 L871.9,915.3 L870.8,918.9 L869.8,922.6 L868.7,926.3 L867.6,929.9 L866.5,933.6 L865.4,937.2 L864.3,940.9 L863.2,944.5 L862.1,948.2 L861.0,951.8 L859.9,955.5 L858.8,959.1 L857.7,962.8 L856.6,966.4 L855.5,970.1 L854.3,973.7 L853.2,977.4 L852.1,981.0 L850.9,984.7 L849.8,988.3 L848.7,991.9 L847.5,995.6 L846.4,999.2 L845.2,1002.8 L844.0,1006.5 L842.9,1010.1 L841.7,1013.7 L840.5,1017.4 L839.3,1021.0 L838.2,1024.6 L837.0,1028.2 L835.8,1031.9 L834.6,1035.5 L833.4,1039.1 L832.2,1042.7 L831.0,1046.4 L829.7,1050.0 L828.5,1053.6 L827.3,1057.2 L826.0,1060.8 L824.8,1064.4 L823.6,1068.0 L822.3,1071.6 L821.1,1075.2 L819.8,1078.8 L818.5,1082.4 L817.2,1086.0 L816.0,1089.6 L814.7,1093.2 L813.4,1096.8 L812.1,1100.4 L810.8,1104.0 L809.5,1107.6 L808.2,1111.2 L806.8,1114.8 L805.5,1118.4 L804.2,1121.9 L802.8,1125.5 L801.5,1129.1 L800.1,1132.7 L798.8,1136.2 L797.4,1139.8 L796.0,1143.4 L794.7,1147.0 L793.3,1150.5 L791.9,1154.1 L790.5,1157.6 L789.1,1161.2 L787.6,1164.8 L786.2,1168.3 L784.8,1171.9 L783.3,1175.4 L781.9,1178.9 L780.4,1182.5 L778.9,1186.0 L777.4,1189.5 L776.0,1193.1 L774.4,1196.6 L772.9,1200.1 L771.4,1203.6 L769.8,1207.1 L768.3,1210.6 L766.7,1214.1 L765.1,1217.5 L763.5,1221.0 L761.9,1224.5 L760.3,1227.9 L758.7,1231.4 L757.0,1234.8 L755.3,1238.3 L753.6,1241.7 L751.9,1245.1 L750.2,1248.5 L748.5,1251.9 L746.7,1255.3 L744.9,1258.6 L743.1,1262.0 L741.3,1265.4 L739.5,1268.7 L737.6,1272.0 L735.7,1275.3 L733.9,1278.7 L731.9,1281.9 L730.0,1285.2 L728.0,1288.5 L726.1,1291.8 L724.1,1295.0 L722.0,1298.2 L720.0,1301.4 L717.9,1304.6 L715.8,1307.8 L713.7,1311.0 L711.6,1314.2 L709.4,1317.3 L707.2,1320.4 L705.0,1323.5 L702.7,1326.6 L700.5,1329.7 L698.2,1332.7 L695.8,1335.8 L693.5,1338.7 L691.1,1341.7 L688.7,1344.7 L686.2,1347.6 L683.7,1350.5 L681.2,1353.4 L678.6,1356.2 L676.1,1359.0 L673.4,1361.8 L670.8,1364.5 L668.1,1367.2 L665.4,1369.9 L662.6,1372.6 L659.8,1375.2 L657.0,1377.8 L654.1,1380.3 L651.2,1382.8 L648.3,1385.2 L645.4,1387.6 L642.4,1390.0 L639.4,1392.4 L636.3,1394.6 L633.2,1396.9 L630.1,1399.1 L627.0,1401.2 L623.8,1403.3 L620.6,1405.4 L617.4,1407.4 L614.1,1409.4 L610.8,1411.3 L607.5,1413.2 L604.2,1415.0 L600.8,1416.8 L597.4,1418.5 L594.0,1420.2 L590.5,1421.8 L587.1,1423.4 L583.6,1425.0 L580.1,1426.5 L576.6,1428.0 L573.1,1429.4 L569.5,1430.8 L565.9,1432.1 L562.3,1433.4 L558.7,1434.6 L555.1,1435.8 L551.5,1436.9 L547.8,1438.0 L544.2,1439.1 L540.5,1440.1 L536.8,1441.1 L533.2,1442.0 L529.5,1442.9 L525.8,1443.7 L522.0,1444.5 L518.3,1445.2 L514.6,1445.9 L510.9,1446.6 L507.1,1447.2 L503.4,1447.8 L499.6,1448.3 L495.8,1448.8 L492.1,1449.3 L488.3,1449.7 L484.5,1450.1 L480.7,1450.5 L476.9,1450.9 L473.1,1451.2 L469.3,1451.5 L465.5,1451.7 L461.7,1451.9 L457.9,1452.1 L454.1,1452.3 L450.2,1452.5 L446.4,1452.6 L442.6,1452.7 L438.7,1452.8 L434.9,1452.8 L431.1,1452.9 L427.2,1452.9 L423.4,1452.9 L419.5,1452.9 L415.7,1452.8 L411.8,1452.8 L408.0,1452.7 L404.1,1452.6 L400.3,1452.6 L396.4,1452.5 L392.6,1452.4 L388.7,1452.2 L384.9,1452.1 L381.0,1452.0 L377.2,1451.8 L373.3,1451.7 L369.5,1451.5 L365.6,1451.4 L361.8,1451.2 L357.9,1451.1 L354.1,1450.9 L350.3,1450.8 L346.4,1450.6 L342.6,1450.5 L338.8,1450.3 L334.9,1450.2 L331.1,1450.0 L327.3,1449.9 L323.5,1449.7 L319.7,1449.6 L315.9,1449.5 L312.1,1449.4 L308.3,1449.2 L304.5,1449.1 L300.7,1449.0 L296.9,1448.9 L293.1,1448.7 L289.3,1448.6 L285.5,1448.5 L281.7,1448.4 L277.9,1448.2 L274.1,1448.1 L270.3,1448.0 L266.5,1447.9 L262.7,1447.7 L258.9,1447.6 L255.1,1447.5 L251.3,1447.3 L247.5,1447.2 L243.7,1447.0 L239.9,1446.9 L236.1,1446.7 L232.3,1446.6 L228.5,1446.4 L224.7,1446.2 L220.9,1446.1 L217.1,1445.9 L213.3,1445.7 L209.5,1445.5 L205.7,1445.3 L201.9,1445.1 L198.0,1444.9" stroke="#ee3a3a" stroke-width="10"/>
</g>
<g clip-path="url(#pa)" fill="none">
<line x1="1091.0" y1="20.5" x2="741.2" y2="1492.8" stroke="#000" stroke-width="5.5" stroke-dasharray="33.0 37.0" stroke-dashoffset="58.8"/>
<line x1="1295.8" y1="20.5" x2="871.1" y2="1492.8" stroke="#000" stroke-width="5.5" stroke-dasharray="33.0 37.0" stroke-dashoffset="61.0"/>
<line x1="1606.9" y1="20.5" x2="1086.3" y2="1492.8" stroke="#000" stroke-width="5.5" stroke-dasharray="33.0 37.0" stroke-dashoffset="53.4"/>
<line x1="1811.2" y1="20.5" x2="1397.7" y2="1492.8" stroke="#000" stroke-width="5.5" stroke-dasharray="33.0 37.0" stroke-dashoffset="49.2"/>
<line x1="2001.6" y1="20.5" x2="1689.1" y2="1492.8" stroke="#000" stroke-width="5.5" stroke-dasharray="33.0 37.0" stroke-dashoffset="44.4"/>
</g>
<text transform="translate(201.9,1589.5) scale(1,1.025)" font-family="'Liberation Sans', Arial, sans-serif" font-size="90" text-anchor="middle">2.34</text>
<text transform="translate(569.7,1589.5) scale(1,1.025)" font-family="'Liberation Sans', Arial, sans-serif" font-size="90" text-anchor="middle">2.37</text>
<text transform="translate(937.4,1589.5) scale(1,1.025)" font-family="'Liberation Sans', Arial, sans-serif" font-size="90" text-anchor="middle">2.40</text>
<text transform="translate(1305.2,1589.5) scale(1,1.025)" font-family="'Liberation Sans', Arial, sans-serif" font-size="90" text-anchor="middle">2.43</text>
<text transform="translate(1673.0,1589.5) scale(1,1.025)" font-family="'Liberation Sans', Arial, sans-serif" font-size="90" text-anchor="middle">2.46</text>
<text transform="translate(2040.7,1589.5) scale(1,1.025)" font-family="'Liberation Sans', Arial, sans-serif" font-size="90" text-anchor="middle">2.49</text>
<text x="910" y="1699" font-family="'Liberation Sans', Arial, sans-serif" font-size="89">Energy (eV)</text>
<text transform="translate(98,1003) rotate(-90)" font-family="'Liberation Sans', Arial, sans-serif" font-size="89"><tspan x="0" font-size="96">(</tspan><tspan x="39.5" font-family="'Liberation Serif', 'Times New Roman', serif" font-style="italic" font-size="95">α</tspan><tspan x="87.8" font-family="'Liberation Serif', 'Times New Roman', serif" font-style="italic" font-size="95">h</tspan><tspan x="151.8" font-family="'Liberation Serif', 'Times New Roman', serif" font-style="italic" font-size="95">ν</tspan><tspan x="186.9" font-size="96">)</tspan><tspan x="215.1" y="-36" font-size="62">2</tspan><tspan x="273.4" y="0">(eV/cm)</tspan><tspan x="584.9" y="-36" font-size="62">2</tspan></text>
<line x1="341" y1="362.5" x2="507.5" y2="362.5" stroke="#ac72de" stroke-width="10" stroke-linecap="round"/>
<text transform="translate(528.0,388.2) scale(1,1.025)" font-family="'Liberation Sans', Arial, sans-serif" font-size="89">100 <tspan font-size="60" dy="-36.5">o</tspan><tspan dy="36.5">C</tspan></text>
<line x1="341" y1="482.5" x2="507.5" y2="482.5" stroke="#146ae0" stroke-width="10" stroke-linecap="round"/>
<text transform="translate(532.6,508.2) scale(1,1.025)" font-family="'Liberation Sans', Arial, sans-serif" font-size="89">120 <tspan font-size="60" dy="-36.5">o</tspan><tspan dy="36.5">C</tspan></text>
<line x1="341" y1="602.0" x2="507.5" y2="602.0" stroke="#31ab68" stroke-width="10" stroke-linecap="round"/>
<text transform="translate(532.6,627.7) scale(1,1.025)" font-family="'Liberation Sans', Arial, sans-serif" font-size="89">140 <tspan font-size="60" dy="-36.5">o</tspan><tspan dy="36.5">C</tspan></text>
<line x1="341" y1="721.5" x2="507.5" y2="721.5" stroke="#fa6303" stroke-width="10" stroke-linecap="round"/>
<text transform="translate(532.6,747.2) scale(1,1.025)" font-family="'Liberation Sans', Arial, sans-serif" font-size="89">160 <tspan font-size="60" dy="-36.5">o</tspan><tspan dy="36.5">C</tspan></text>
<line x1="341" y1="841.5" x2="507.5" y2="841.5" stroke="#ee3a3a" stroke-width="10" stroke-linecap="round"/>
<text transform="translate(532.6,867.2) scale(1,1.025)" font-family="'Liberation Sans', Arial, sans-serif" font-size="89">180 <tspan font-size="60" dy="-36.5">o</tspan><tspan dy="36.5">C</tspan></text>
<text transform="translate(1037.2,748.0) rotate(-77)" font-family="'Liberation Sans', Arial, sans-serif" font-size="75"><tspan font-style="italic">E</tspan><tspan font-style="italic" font-size="50" dy="14">g</tspan><tspan dy="-14"> = 2.383 eV</tspan></text>
<text transform="translate(1220.2,761.4) rotate(-77)" font-family="'Liberation Sans', Arial, sans-serif" font-size="75"><tspan font-style="italic">E</tspan><tspan font-style="italic" font-size="50" dy="14">g</tspan><tspan dy="-14"> = 2.394 eV</tspan></text>
<text transform="translate(1482.5,776.3) rotate(-77)" font-family="'Liberation Sans', Arial, sans-serif" font-size="75"><tspan font-style="italic">E</tspan><tspan font-style="italic" font-size="50" dy="14">g</tspan><tspan dy="-14"> = 2.414 eV</tspan></text>
<text transform="translate(1727.3,788.1) rotate(-77)" font-family="'Liberation Sans', Arial, sans-serif" font-size="75"><tspan font-style="italic">E</tspan><tspan font-style="italic" font-size="50" dy="14">g</tspan><tspan dy="-14"> = 2.438 eV</tspan></text>
<text transform="translate(1936.5,796.9) rotate(-77)" font-family="'Liberation Sans', Arial, sans-serif" font-size="75"><tspan font-style="italic">E</tspan><tspan font-style="italic" font-size="50" dy="14">g</tspan><tspan dy="-14"> = 2.462 eV</tspan></text>
</svg>
</body></html>
